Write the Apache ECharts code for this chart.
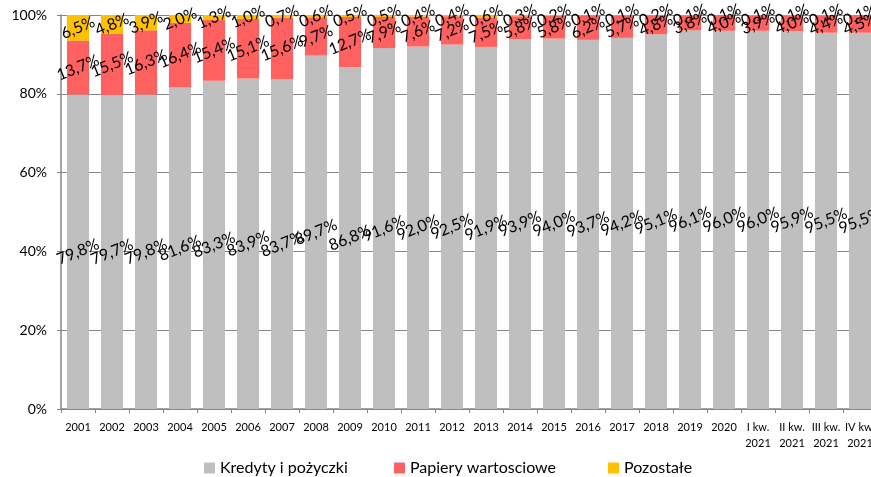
<!DOCTYPE html>
<html>
<head>
<meta charset="utf-8">
<script src="https://cdn.jsdelivr.net/npm/echarts@6/dist/echarts.min.js"></script>
<style>
html,body{margin:0;padding:0;background:#fff;}
#chart{width:871px;height:477px;}
</style>
</head>
<body>
<div id="chart"></div>
<script>
const categories = ['2001','2002','2003','2004','2005','2006','2007','2008','2009','2010','2011','2012','2013','2014','2015','2016','2017','2018','2019','2020','I kw.\n2021','II kw.\n2021','III kw.\n2021','IV kw.\n2021'];
const kredyty = [79.8,79.7,79.8,81.6,83.3,83.9,83.7,89.7,86.8,91.6,92.0,92.5,91.9,93.9,94.0,93.7,94.2,95.1,96.1,96.0,96.0,95.9,95.5,95.5];
const papiery = [13.7,15.5,16.3,16.4,15.4,15.1,15.6,9.7,12.7,7.9,7.6,7.2,7.5,5.8,5.8,6.2,5.7,4.8,3.8,4.0,3.9,4.0,4.4,4.5];
const pozostale = [6.5,4.8,3.9,2.0,1.3,1.0,0.7,0.6,0.5,0.5,0.4,0.4,0.6,0.3,0.2,0.1,0.1,0.2,0.1,0.1,0.1,0.1,0.1,0.1];
const seriesNames = ['Kredyty i pożyczki','Papiery wartosciowe','Pozostałe'];
const colors = ['#BFBFBF','#FF6161','#FFC000'];
const legendLefts = [204, 394, 608];

const FONT = 'Lato';
const labelCfg = {
  show: true,
  position: 'inside',
  rotate: 22,
  color: '#000',
  fontFamily: FONT,
  fontSize: 16,
  formatter: p => p.value.toFixed(1).replace('.', ',') + '%'
};

const legends = seriesNames.map((n, i) => ({
  left: legendLefts[i], top: 460, padding: 0,
  itemWidth: 11, itemHeight: 11,
  icon: 'rect',
  textStyle: {fontFamily: FONT, fontSize: 16, color: '#000'},
  data: [n]
}));

const chart = echarts.init(document.getElementById('chart'), null, {renderer:'canvas'});
chart.setOption({
  animation: false,
  color: colors,
  textStyle: {fontFamily: FONT},
  grid: {left: 61, top: 15, width: 816, height: 394, containLabel: false, outerBoundsMode: 'none'},
  legend: legends,
  xAxis: {
    type: 'category',
    data: categories,
    axisLine: {lineStyle: {color: '#868686', width: 1.5}},
    axisTick: {show: true, length: 4, lineStyle: {color: '#868686'}},
    axisLabel: {interval: 0, color: '#000', fontFamily: FONT, fontSize: 11, lineHeight: 16, margin: 10}
  },
  yAxis: {
    type: 'value',
    min: 0, max: 100, interval: 20,
    axisLine: {show: true, lineStyle: {color: '#868686', width: 1.5}},
    axisTick: {show: true, length: 4, lineStyle: {color: '#868686'}},
    splitLine: {lineStyle: {color: '#868686', width: 1}},
    axisLabel: {formatter: '{value}%', color: '#000', fontFamily: FONT, fontSize: 14, margin: 14}
  },
  series: [
    {name: seriesNames[0], type: 'bar', stack: 's', data: kredyty, barCategoryGap: '35%', label: labelCfg},
    {name: seriesNames[1], type: 'bar', stack: 's', data: papiery, barCategoryGap: '35%', label: labelCfg},
    {name: seriesNames[2], type: 'bar', stack: 's', data: pozostale, barCategoryGap: '35%', label: labelCfg}
  ]
});
</script>
</body>
</html>
